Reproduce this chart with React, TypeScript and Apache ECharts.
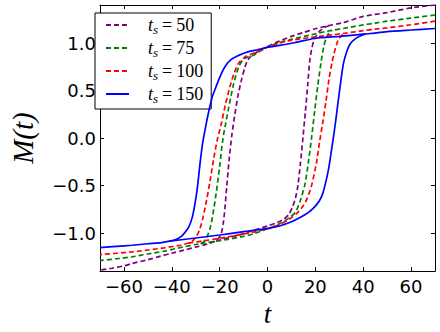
import { useEffect, useRef } from 'react';
import * as echarts from 'echarts';

// Axis ticks
const tTicks = [-60, -40, -20, 0, 20, 40, 60];
const mTicks = [-1, -0.5, 0, 0.5, 1];

// Legend / series
const seriesNames = ['t_s = 50', 't_s = 75', 't_s = 100', 't_s = 150'];
const seriesColors = ['#800080', '#008000', '#ff0000', '#0000ff'];
const seriesDashed = [true, true, true, false];

// t_s = 50 (purple): descending sweep, then ascending sweep between merge points
const purpleDown = [
  [70, 1.40], [60, 1.37], [50, 1.32], [40, 1.28], [31.7, 1.215], [25, 1.18], [20, 1.15], [15, 1.11],
  [10, 1.07], [5, 1.02], [0, 0.965], [-4, 0.91], [-7, 0.86], [-8.5, 0.81], [-9.5, 0.74], [-10.8, 0.62],
  [-12.3, 0.45], [-13.7, 0.24], [-14.9, 0.03], [-16, -0.22], [-17, -0.5], [-17.8, -0.74], [-18.5, -0.9],
  [-19.3, -1.0], [-20.3, -1.05], [-21.5, -1.08], [-25, -1.115], [-30, -1.148], [-35, -1.18], [-40, -1.212],
  [-45, -1.245], [-50, -1.28], [-56.6, -1.32], [-60, -1.345], [-65, -1.37], [-70, -1.39],
];
const purpleUp = [
  [-21.5, -1.08], [-19.2, -1.07], [-15, -1.04], [-9.9, -1.005], [-5, -0.965], [0, -0.925], [4, -0.89],
  [7, -0.85], [9, -0.8], [10.5, -0.72], [11.7, -0.63], [12.7, -0.5], [13.7, -0.28], [14.8, 0.0],
  [15.8, 0.27], [16.8, 0.56], [17.6, 0.8], [18.4, 0.93], [19.3, 1.02], [20.5, 1.08], [22, 1.13],
  [24, 1.165], [26, 1.186],
];

// t_s = 75 (green)
const greenDown = [
  [70, 1.295], [60, 1.262], [50, 1.23], [45, 1.21], [40, 1.19], [31.7, 1.153], [27, 1.133], [25, 1.125],
  [18.4, 1.087], [10, 1.04], [5, 1.005], [0, 0.96], [-5.6, 0.875], [-8, 0.855], [-10.3, 0.825],
  [-12.3, 0.73], [-14.3, 0.555], [-16.3, 0.31], [-17.5, 0.15], [-18.6, 0.0], [-20, -0.3], [-21.4, -0.57],
  [-22.8, -0.8], [-24, -0.95], [-25.3, -1.04], [-26.6, -1.09], [-28, -1.11], [-30, -1.12], [-35, -1.145],
  [-43.2, -1.19], [-50, -1.22], [-56.6, -1.25], [-63, -1.27], [-70, -1.289],
];
const greenUp = [
  [-28, -1.11], [-22, -1.088], [-16.6, -1.066], [-10, -1.035], [-5.9, -1.007], [0, -0.955], [3, -0.925],
  [6, -0.89], [9, -0.84], [11.7, -0.78], [13.7, -0.66], [15.7, -0.48], [17, -0.27], [18.4, 0.0],
  [19.7, 0.28], [21, 0.55], [22.4, 0.8], [23.5, 0.96], [24.5, 1.05], [25.5, 1.1], [27, 1.133],
];

// t_s = 100 (red)
const redDown = [
  [70, 1.23], [60, 1.192], [50, 1.16], [45, 1.146], [40, 1.13], [33, 1.105], [25, 1.08], [18.4, 1.06],
  [9, 1.025], [5, 1.0], [0, 0.955], [-5, 0.9], [-9, 0.86], [-12, 0.79], [-14, 0.68], [-15.6, 0.55],
  [-17.6, 0.35], [-19.5, 0.13], [-21, -0.02], [-22.5, -0.22], [-24, -0.45], [-25.5, -0.66], [-27, -0.84],
  [-28.3, -0.96], [-29.8, -1.04], [-31.5, -1.085], [-33, -1.105], [-36, -1.125], [-43.2, -1.156],
  [-50, -1.178], [-56.6, -1.198], [-63, -1.212], [-70, -1.226],
];
const redUp = [
  [-33, -1.105], [-25, -1.075], [-16.6, -1.04], [-6, -0.99], [0, -0.955], [2, -0.94], [5, -0.91],
  [9, -0.855], [13, -0.775], [15, -0.71], [16.5, -0.64], [18.4, -0.5], [20.4, -0.27], [21.7, -0.05],
  [23, 0.15], [24.4, 0.38], [25.7, 0.62], [27, 0.8], [27.7, 0.88], [28.8, 0.98], [29.7, 1.04],
  [31.5, 1.09], [33, 1.105],
];

// t_s = 150 (blue)
const blueDown = [
  [70, 1.153], [60, 1.137], [50, 1.12], [43, 1.1], [40, 1.093], [30, 1.07], [20, 1.05], [11.7, 1.005],
  [5, 0.975], [0, 0.955], [-5, 0.925], [-9, 0.9], [-12, 0.87], [-15, 0.83], [-17.5, 0.76], [-19.6, 0.66],
  [-21.5, 0.54], [-23, 0.44], [-24.2, 0.32], [-25.3, 0.19], [-26.3, 0.06], [-27.2, -0.07], [-28.2, -0.27],
  [-29.2, -0.5], [-30.3, -0.69], [-31.5, -0.84], [-33, -0.94], [-34.7, -1.0], [-36.3, -1.04],
  [-38.5, -1.07], [-41, -1.085], [-44.3, -1.1], [-50, -1.112], [-56.6, -1.128], [-63, -1.14], [-70, -1.153],
];
const blueUp = [
  [-41, -1.085], [-30, -1.052], [-20, -1.02], [-10, -0.985], [0, -0.95], [5, -0.925], [10, -0.88],
  [14, -0.83], [17, -0.785], [19.5, -0.73], [21.7, -0.66], [23, -0.59], [24.2, -0.48], [25.5, -0.33],
  [26.5, -0.17], [27.5, 0.0], [28.5, 0.18], [29.5, 0.38], [30.4, 0.555], [31.7, 0.78], [33, 0.9],
  [34.5, 0.99], [36.5, 1.04], [38.5, 1.072], [41, 1.095],
];

const branches = [
  [purpleDown, purpleUp],
  [greenDown, greenUp],
  [redDown, redUp],
  [blueDown, blueUp],
];

const minusify = (s: string) => s.replace('-', '\u2212');

export default function App() {
  const ref = useRef<HTMLDivElement>(null);
  useEffect(() => {
    const chart = echarts.init(ref.current!, null, { renderer: 'svg' });
    const tickFont = { fontFamily: 'DejaVu Sans', fontSize: 18, color: '#000' };
    const series: any[] = [];
    branches.forEach((pair, i) => {
      pair.forEach((data) => {
        series.push({
          name: seriesNames[i],
          type: 'line',
          data,
          symbol: 'none',
          showSymbol: false,
          smooth: 0.25,
          clip: true,
          z: 2 + i,
          itemStyle: { color: seriesColors[i] },
          lineStyle: {
            color: seriesColors[i],
            width: 1.7,
            type: seriesDashed[i] ? [5, 3] : 'solid',
          },
        });
      });
    });
    const option: any = {
      animation: false,
      grid: { left: 86, right: 5, top: 5, bottom: 58, containLabel: false },
      xAxis: [
        {
          type: 'value',
          min: -70,
          max: 70,
          position: 'bottom',
          name: 't',
          nameLocation: 'middle',
          nameGap: 25,
          nameTextStyle: { fontFamily: 'Liberation Serif', fontStyle: 'italic', fontSize: 27, color: '#000' },
          axisLine: { show: true, onZero: false, lineStyle: { color: '#000', width: 1 } },
          axisTick: { show: true, inside: true, length: 4, customValues: tTicks, lineStyle: { color: '#000' } },
          axisLabel: {
            ...tickFont,
            margin: 6,
            customValues: tTicks,
            formatter: (v: number) => minusify(String(v)),
          },
          splitLine: { show: false },
        },
        {
          type: 'value',
          min: -70,
          max: 70,
          position: 'top',
          axisLine: { show: true, onZero: false, lineStyle: { color: '#000', width: 1 } },
          axisTick: { show: true, inside: true, length: 4, customValues: tTicks, lineStyle: { color: '#000' } },
          axisLabel: { show: false },
          splitLine: { show: false },
        },
      ],
      yAxis: [
        {
          type: 'value',
          min: -1.4,
          max: 1.4,
          position: 'left',
          name: 'M(t)',
          nameLocation: 'middle',
          nameGap: 63,
          nameRotate: 90,
          nameTextStyle: { fontFamily: 'Liberation Serif', fontStyle: 'italic', fontSize: 29, color: '#000' },
          axisLine: { show: true, onZero: false, lineStyle: { color: '#000', width: 1 } },
          axisTick: { show: true, inside: true, length: 4, customValues: mTicks, lineStyle: { color: '#000' } },
          axisLabel: {
            ...tickFont,
            margin: 4,
            customValues: mTicks,
            formatter: (v: number) => minusify(v.toFixed(1)),
          },
          splitLine: { show: false },
        },
        {
          type: 'value',
          min: -1.4,
          max: 1.4,
          position: 'right',
          axisLine: { show: true, onZero: false, lineStyle: { color: '#000', width: 1 } },
          axisTick: { show: true, inside: true, length: 4, customValues: mTicks, lineStyle: { color: '#000' } },
          axisLabel: { show: false },
          splitLine: { show: false },
        },
      ],
      legend: {
        data: seriesNames,
        orient: 'vertical',
        left: 95,
        top: 13,
        padding: [3, 8, 4, 10],
        itemGap: 3,
        itemWidth: 23,
        itemHeight: 14,
        backgroundColor: '#fff',
        borderColor: '#000',
        borderWidth: 1,
        borderRadius: 0,
        selectedMode: false,
        itemStyle: { opacity: 0, borderWidth: 0 },
        formatter: (name: string) => {
          const v = name.split('=')[1].trim();
          return `{t|t}{s|s}{e|=}{n|${v}}`;
        },
        textStyle: {
          color: '#000',
          rich: {
            t: { fontFamily: 'Liberation Serif', fontStyle: 'italic', fontSize: 18, padding: [0, 0, 0, 14] },
            s: { fontFamily: 'Liberation Serif', fontStyle: 'italic', fontSize: 13, padding: [9, 0, 0, 0] },
            e: { fontFamily: 'Liberation Serif', fontSize: 18, padding: [0, 4, 0, 4] },
            n: { fontFamily: 'Liberation Serif', fontSize: 18 },
          },
        },
      },
      series,
    };
    chart.setOption(option);
    return () => chart.dispose();
  }, []);
  return <div ref={ref} style={{ position: 'absolute', left: 0, top: 0, width: 440, height: 332 }} />;
}
